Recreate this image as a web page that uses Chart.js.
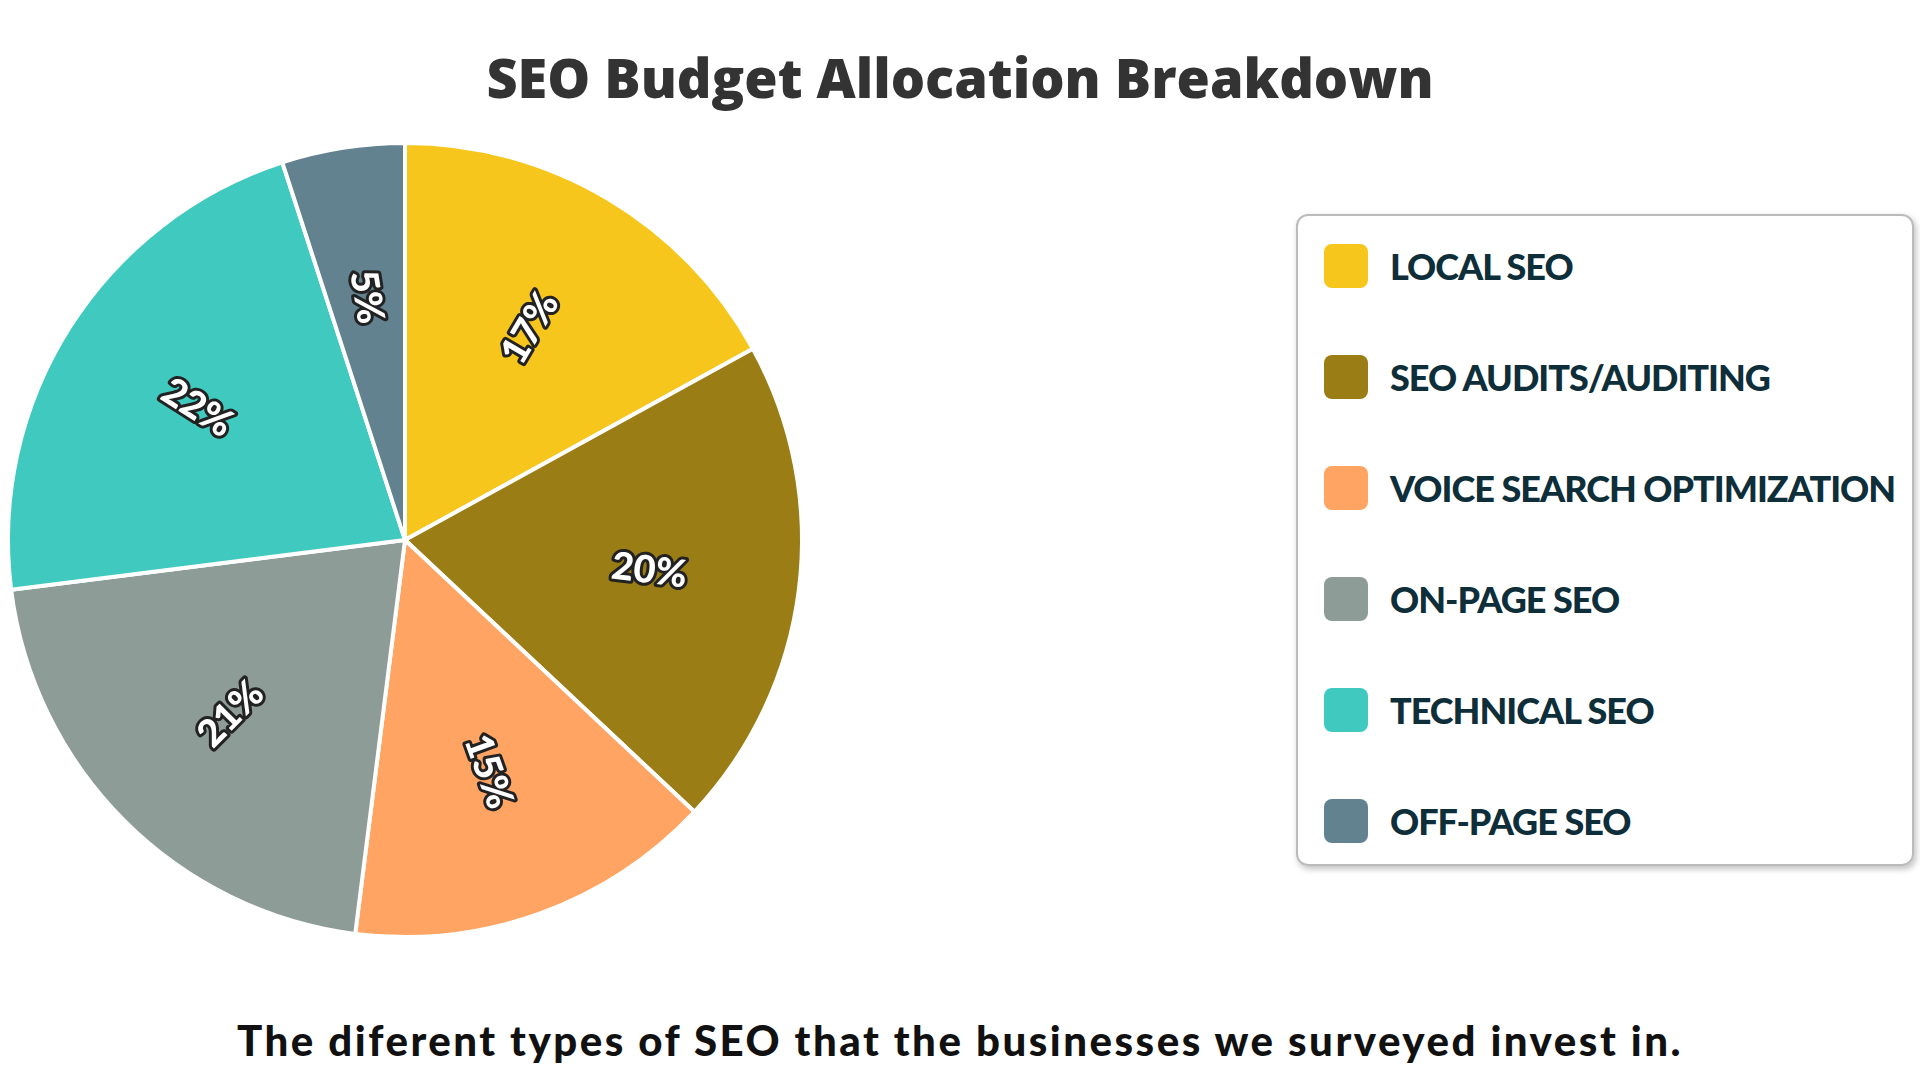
<!DOCTYPE html>
<html>
<head>
<meta charset="utf-8">
<script src="https://cdn.jsdelivr.net/npm/chart.js@4/dist/chart.umd.min.js"></script>
<style>
  body { margin: 0; width: 1920px; height: 1080px; background: #fff; font-family: "Open Sans", sans-serif; overflow: hidden; position: relative; }
  #title { position: absolute; top: 40px; left: 0; width: 1920px; text-align: center; font-size: 54px; font-weight: 800; color: #333; }
  #wrap { position: absolute; left: 0; top: 135px; width: 810px; height: 810px; }
  #legend { position: absolute; left: 1296px; top: 214px; width: 618px; height: 652px; border: 2px solid #bbb; border-radius: 12px; box-shadow: 2px 3px 6px rgba(0,0,0,0.25); box-sizing: border-box; padding: 0 0 0 26px; }
  .item { display: flex; align-items: center; height: 111px; margin-top: -6px; margin-bottom: 6px; font-family: "Lato", sans-serif; font-weight: 900; font-size: 36px; color: #0e2e3a; letter-spacing: -1px; }
  .sw { width: 44px; height: 44px; border-radius: 8px; margin-right: 22px; flex: none; }
  #caption { position: absolute; top: 1015px; left: 0; width: 1920px; text-align: center; font-family: "Lato", sans-serif; font-weight: 900; font-size: 42px; letter-spacing: 2.5px; color: #111; }
</style>
</head>
<body>
<div id="title">SEO Budget Allocation Breakdown</div>
<div id="wrap"><canvas id="pie"></canvas></div>
<div id="legend"></div>
<div id="caption">The diferent types of SEO that the businesses we surveyed invest in.</div>
<script>
const categories = ['LOCAL SEO', 'SEO AUDITS/AUDITING', 'VOICE SEARCH OPTIMIZATION', 'ON-PAGE SEO', 'TECHNICAL SEO', 'OFF-PAGE SEO'];
const shares = [17, 20, 15, 21, 22, 5];
const colors = ['#F7C61C', '#9A7D15', '#FFA463', '#8E9C98', '#40C9BF', '#62828F'];

const legend = document.getElementById('legend');
categories.forEach((c, i) => {
    legend.innerHTML += '<div class="item"><div class="sw" style="background:' + colors[i] + '"></div>' + c + '</div>';
});

const sliceLabels = {
    id: 'sliceLabels',
    afterDatasetsDraw(chart) {
        const ctx = chart.ctx;
        chart.getDatasetMeta(0).data.forEach((arc, i) => {
            const mid = (arc.startAngle + arc.endAngle) / 2;
            const r = arc.outerRadius * 0.62;
            const x = arc.x + Math.cos(mid) * r;
            const y = arc.y + Math.sin(mid) * r;
            let rot = mid;
            let deg = ((mid * 180 / Math.PI) % 360 + 360) % 360;
            if (deg > 90 && deg < 270) rot += Math.PI;
            ctx.save();
            ctx.translate(x, y);
            ctx.rotate(rot);
            ctx.font = '900 38px Lato';
            ctx.textAlign = 'center';
            ctx.textBaseline = 'middle';
            ctx.lineWidth = 6;
            ctx.strokeStyle = '#222';
            ctx.lineJoin = 'round';
            ctx.strokeText(shares[i] + '%', 0, 0);
            ctx.fillStyle = '#fff';
            ctx.fillText(shares[i] + '%', 0, 0);
            ctx.restore();
        });
    }
};

new Chart(document.getElementById('pie'), {
    type: 'pie',
    data: {
        labels: categories,
        datasets: [{
            data: shares,
            backgroundColor: colors,
            borderColor: '#fff',
            borderWidth: 4
        }]
    },
    options: {
        responsive: true,
        maintainAspectRatio: false,
        animation: false,
        layout: { padding: 6 },
        plugins: {
            legend: { display: false },
            tooltip: { enabled: false }
        }
    },
    plugins: [sliceLabels]
});
</script>
</body>
</html>
